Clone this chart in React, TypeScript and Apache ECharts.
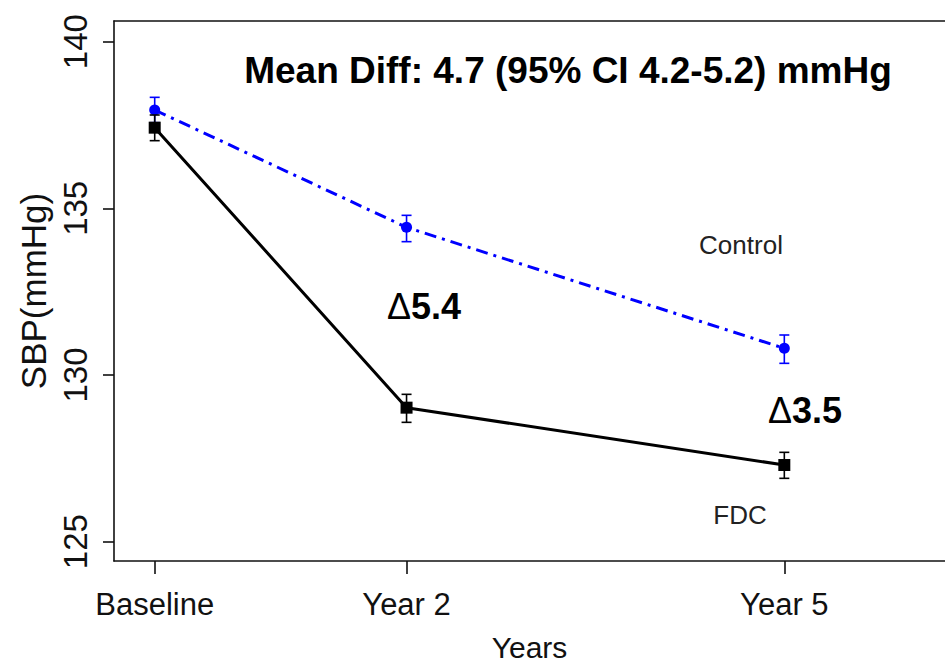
import React, { useEffect, useRef } from "react";
import * as echarts from "echarts";

const xValues = [0, 2, 5];
const xTickLabels = ["Baseline", "Year 2", "Year 5"];
const yTicks = [125, 130, 135, 140];

const controlMean = [137.95, 134.43, 130.8];
const controlLo = [137.57, 134.0, 130.35];
const controlHi = [138.33, 134.79, 131.2];

const fdcMean = [137.42, 129.02, 127.3];
const fdcLo = [137.03, 128.58, 126.9];
const fdcHi = [137.8, 129.42, 127.68];

const FONT = "'Liberation Sans', Arial, Helvetica, sans-serif";

function errRender(color: string) {
  return (params: any, api: any) => {
    const x = api.value(0);
    const lo = api.value(1);
    const hi = api.value(2);
    const p1 = api.coord([x, lo]);
    const p2 = api.coord([x, hi]);
    const w = 5;
    const st = { stroke: color, lineWidth: 1.6 };
    return {
      type: "group",
      children: [
        { type: "line", shape: { x1: p1[0], y1: p1[1], x2: p2[0], y2: p2[1] }, style: st },
        { type: "line", shape: { x1: p1[0] - w, y1: p1[1], x2: p1[0] + w, y2: p1[1] }, style: st },
        { type: "line", shape: { x1: p2[0] - w, y1: p2[1], x2: p2[0] + w, y2: p2[1] }, style: st },
      ],
    };
  };
}

export default function App() {
  const ref = useRef<HTMLDivElement>(null);
  useEffect(() => {
    if (!ref.current) return;
    const chart = echarts.init(ref.current, null, { renderer: "svg" });
    const controlData = xValues.map((x, i) => [x, controlMean[i]]);
    const fdcData = xValues.map((x, i) => [x, fdcMean[i]]);
    const controlErr = xValues.map((x, i) => [x, controlLo[i], controlHi[i]]);
    const fdcErr = xValues.map((x, i) => [x, fdcLo[i], fdcHi[i]]);
    const xMin = -0.3232;
    const xMax = 6.276;
    chart.setOption({
      animation: false,
      backgroundColor: "#ffffff",
      textStyle: { fontFamily: FONT },
      grid: {
        left: 114,
        top: 21,
        right: 0,
        bottom: 107,
        containLabel: false,
        outerBoundsMode: "none",
      },
      xAxis: [
        {
          type: "value",
          min: xMin,
          max: xMax,
          name: "Years",
          nameLocation: "middle",
          nameGap: 71,
          nameTextStyle: { fontSize: 30, lineHeight: 30, color: "#111", fontFamily: FONT },
          axisLine: { show: true, onZero: false, lineStyle: { color: "#111", width: 1.6 } },
          axisTick: { show: true, customValues: xValues, length: 13, lineStyle: { color: "#111", width: 1.6 } },
          axisLabel: {
            show: true,
            customValues: xValues,
            margin: 28,
            fontSize: 31,
            color: "#111",
            fontFamily: FONT,
            formatter: (v: number) => {
              const idx = xValues.indexOf(v);
              return idx >= 0 ? xTickLabels[idx] : "";
            },
          },
          splitLine: { show: false },
        },
        {
          type: "value",
          position: "top",
          min: xMin,
          max: xMax,
          axisLine: { show: true, onZero: false, lineStyle: { color: "#111", width: 1.6 } },
          axisTick: { show: false },
          axisLabel: { show: false },
          splitLine: { show: false },
        },
      ],
      yAxis: {
        type: "value",
        min: 124.42,
        max: 140.62,
        name: "SBP(mmHg)",
        nameLocation: "middle",
        nameRotate: 90,
        nameGap: 63,
        nameTextStyle: { fontSize: 35, color: "#111", fontFamily: FONT },
        axisLine: { show: true, onZero: false, lineStyle: { color: "#111", width: 1.6 } },
        axisTick: { show: true, customValues: yTicks, length: 11, lineStyle: { color: "#111", width: 1.6 } },
        axisLabel: {
          show: true,
          customValues: yTicks,
          rotate: 90,
          margin: 22,
          fontSize: 33,
          color: "#111",
          fontFamily: FONT,
        },
        splitLine: { show: false },
      },
      series: [
        {
          name: "Control",
          type: "line",
          data: controlData,
          symbol: "circle",
          symbolSize: 11,
          itemStyle: { color: "#0000ff" },
          lineStyle: { color: "#0000ff", width: 3, type: [12, 6, 3, 6] },
          z: 2,
        },
        {
          name: "ControlErr",
          type: "custom",
          data: controlErr,
          renderItem: errRender("#0000ff"),
          z: 3,
        },
        {
          name: "FDC",
          type: "line",
          data: fdcData,
          symbol: "rect",
          symbolSize: 12,
          itemStyle: { color: "#000000" },
          lineStyle: { color: "#000000", width: 3 },
          z: 4,
        },
        {
          name: "FDCErr",
          type: "custom",
          data: fdcErr,
          renderItem: errRender("#000000"),
          z: 5,
        },
      ],
      graphic: [
        {
          type: "text",
          x: 568,
          y: 70,
          style: {
            text: "Mean Diff: 4.7 (95% CI 4.2-5.2) mmHg",
            fontSize: 37,
            fontWeight: "bold",
            fontFamily: FONT,
            fill: "#000",
            align: "center",
            verticalAlign: "middle",
          },
        },
        {
          type: "text",
          x: 741,
          y: 245,
          style: { text: "Control", fontSize: 26, fontFamily: FONT, fill: "#222", align: "center", verticalAlign: "middle" },
        },
        {
          type: "text",
          x: 740,
          y: 515,
          style: { text: "FDC", fontSize: 26, fontFamily: FONT, fill: "#222", align: "center", verticalAlign: "middle" },
        },
        {
          type: "text",
          x: 424,
          y: 306,
          style: {
            text: "{d|Δ}{n|5.4}",
            align: "center",
            verticalAlign: "middle",
            rich: {
              d: { fontSize: 36, fontFamily: FONT, fill: "#000" },
              n: { fontSize: 36, fontWeight: "bold", fontFamily: FONT, fill: "#000" },
            },
          },
        },
        {
          type: "text",
          x: 805,
          y: 410,
          style: {
            text: "{d|Δ}{n|3.5}",
            align: "center",
            verticalAlign: "middle",
            rich: {
              d: { fontSize: 36, fontFamily: FONT, fill: "#000" },
              n: { fontSize: 36, fontWeight: "bold", fontFamily: FONT, fill: "#000" },
            },
          },
        },
      ],
    });
    return () => chart.dispose();
  }, []);
  return (
    <div
      ref={ref}
      style={{ position: "absolute", left: 0, top: 0, width: 945, height: 668, overflow: "hidden" }}
    />
  );
}
